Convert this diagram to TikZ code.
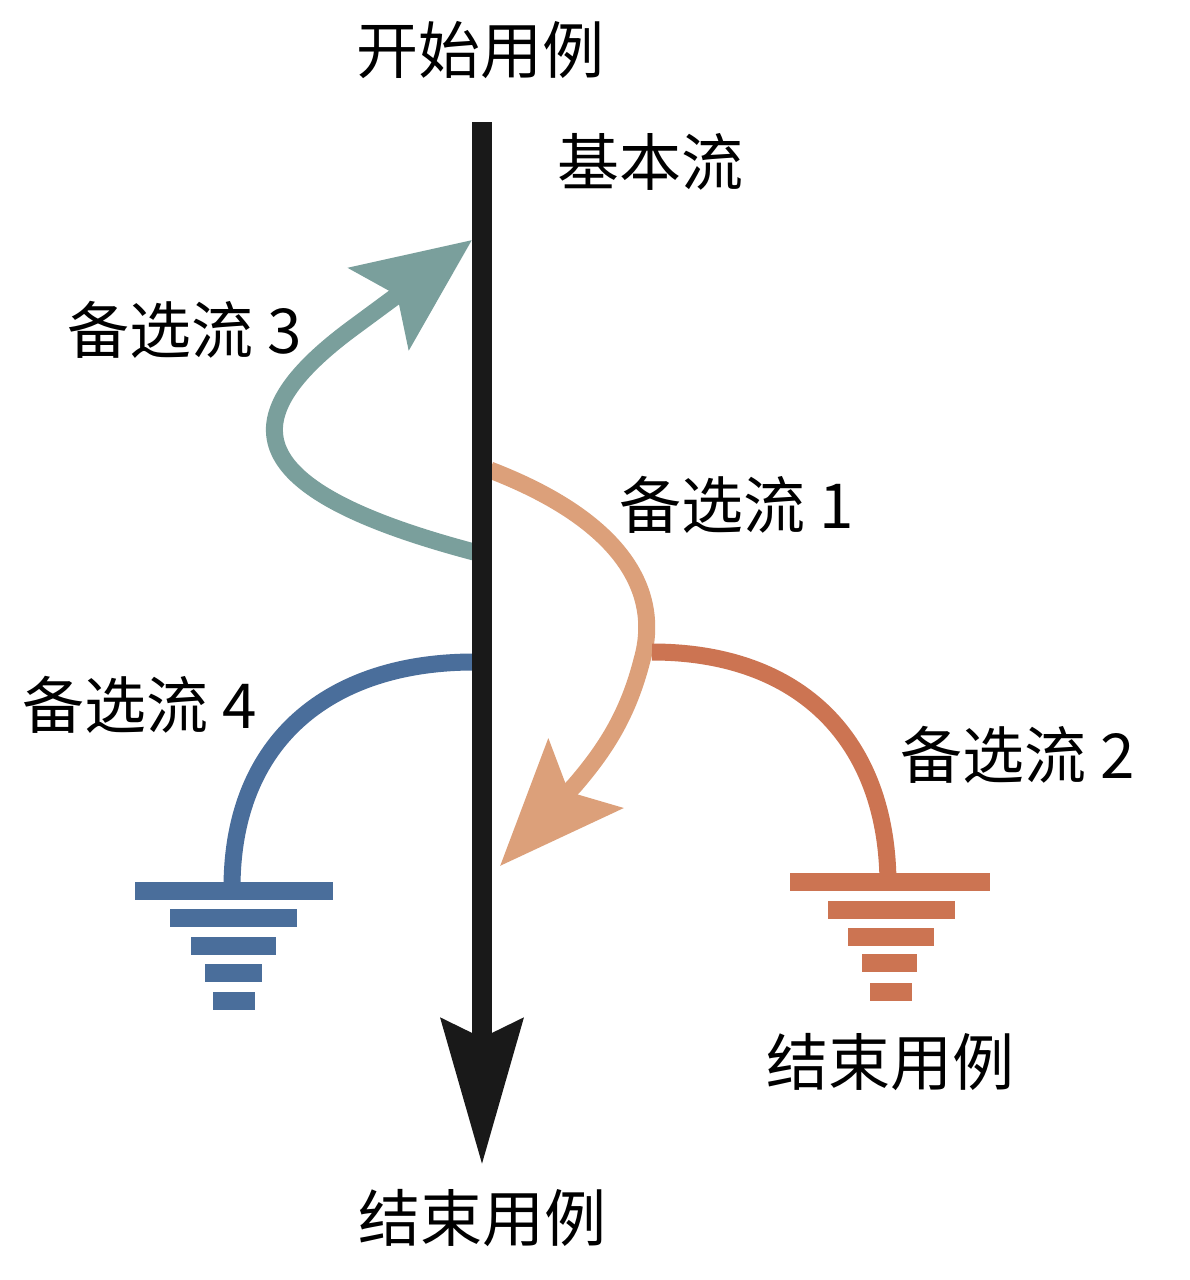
\documentclass[tikz,border=0pt]{standalone}
\usepackage{fontspec}
\setmainfont{Noto Sans CJK SC}
\usetikzlibrary{arrows.meta}
\definecolor{teal3}{HTML}{7A9F9C}
\definecolor{org1}{HTML}{DCA07A}
\definecolor{red2}{HTML}{CC7452}
\definecolor{blue4}{HTML}{4A6E9B}
\begin{document}
\begin{tikzpicture}[x=1pt,y=-1pt,
  lbl/.style={font=\fontsize{62}{66}\selectfont,inner sep=0pt},
  flow/.style={line width=17pt}]
\useasboundingbox (0,0) rectangle (1190,1280);
\fill[white] (0,0) rectangle (1190,1280);
\node[lbl] (start) at (480,50) {开始用例};
\node[lbl] (basic) at (650,162) {基本流};
\node[lbl] (a3) at (185,330) {备选流 3};
\node[lbl] (a1) at (737,505) {备选流 1};
\node[lbl] (a4) at (140,705) {备选流 4};
\node[lbl] (a2) at (1018,755) {备选流 2};
\node[lbl] (endR) at (890,1062) {结束用例};
\node[lbl] (endB) at (482,1218) {结束用例};
\coordinate (top) at (482,122);
\coordinate (bot) at (482,1165);
% alternative flows
\coordinate (t0) at (474,552); \coordinate (t1) at (472,240);
\draw[teal3,flow,-{Stealth[length=115pt,width=100pt,inset=22pt]}]
  (t0) .. controls (240,490) and (230,420) .. (350,330) -- (t1);
\coordinate (o0) at (490,470); \coordinate (o1) at (500,866);
\draw[org1,flow,-{Stealth[length=125pt,width=100pt,inset=24pt]}]
  (o0) .. controls (620,520) and (662,590) .. (642,660) .. controls (628,715) and (605,750) .. (575,785) -- (o1);
\coordinate (r0) at (652,652); \coordinate (r1) at (888,885);
\draw[red2,flow] (r0) .. controls (800,652) and (888,740) .. (r1);
\coordinate (b0) at (474,662); \coordinate (b1) at (232,888);
\draw[blue4,flow] (b0) .. controls (330,662) and (232,740) .. (b1);
% grounds
\foreach \y/\l/\r in {882/790/990,910/828/955,937/848/934,963/862/917,992/870/912}
  \fill[red2] (\l,\y-9) rectangle (\r,\y+9);
\foreach \y/\l/\r in {891/135/333,918/170/297,946/191/276,973/205/262,1001/213/255}
  \fill[blue4] (\l,\y-9) rectangle (\r,\y+9);
% main
\draw[black!90,line width=20pt,-{Stealth[length=145pt,width=80pt,inset=18pt]}] (top) -- (bot);
\end{tikzpicture}
\end{document}
